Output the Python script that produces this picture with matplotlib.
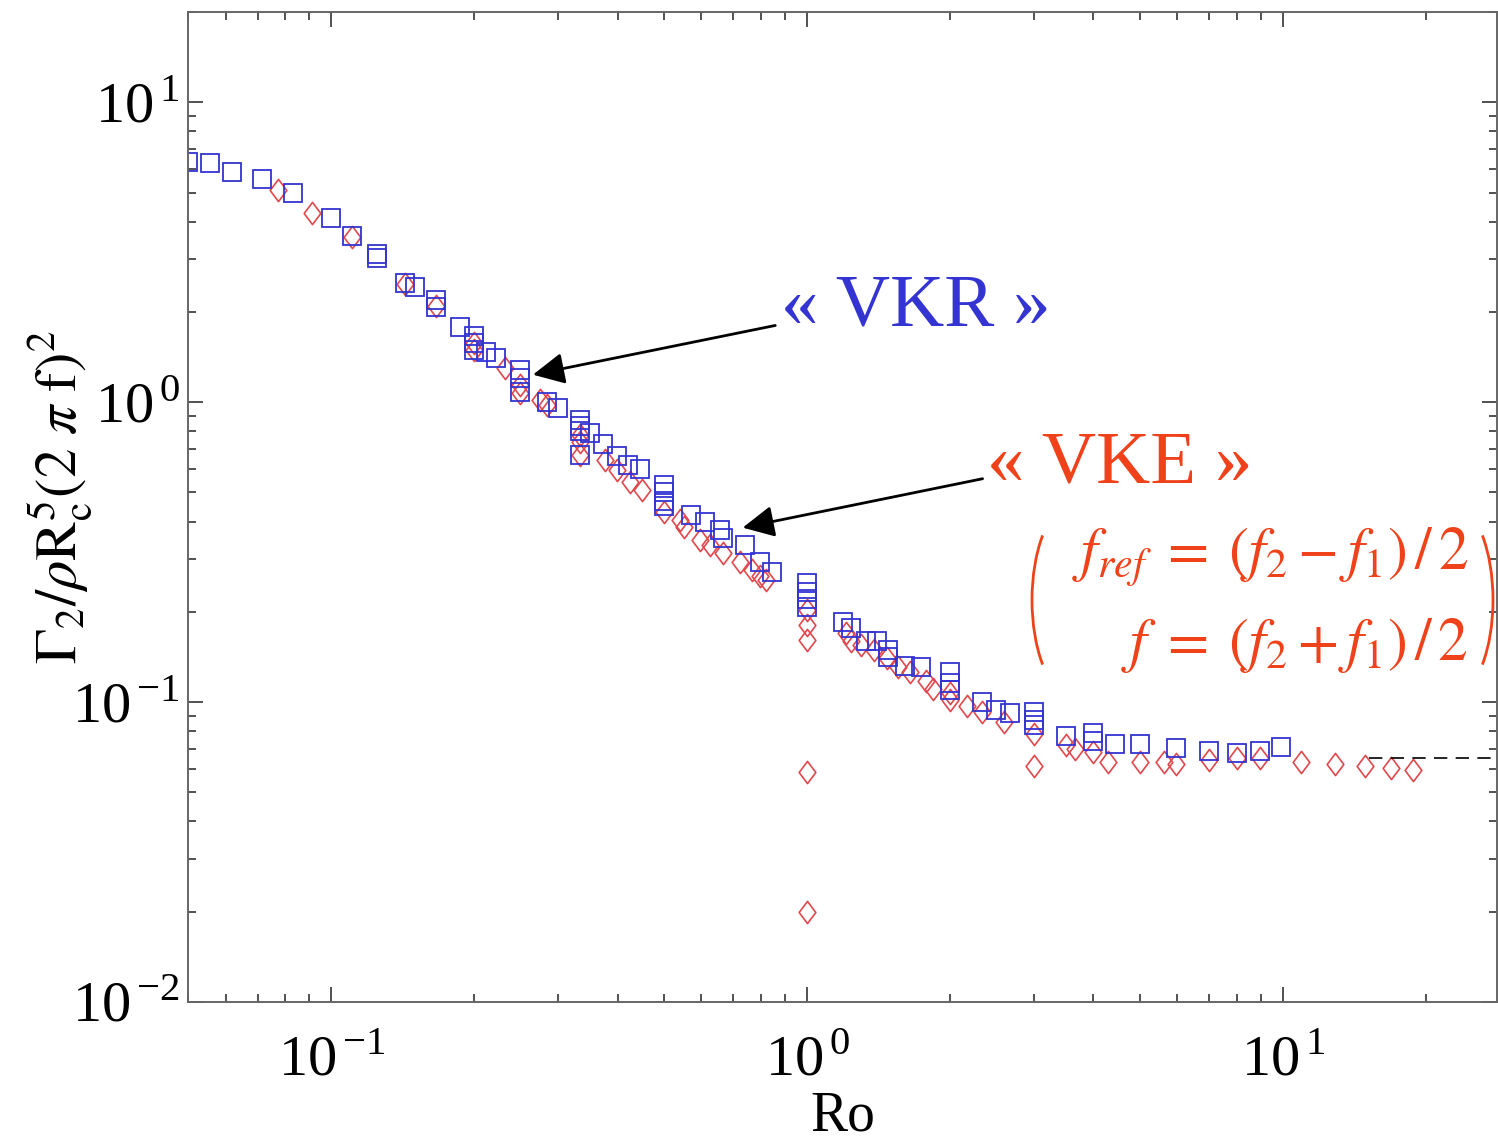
import matplotlib
matplotlib.use("Agg")
import matplotlib.pyplot as plt
from matplotlib.patches import Arc
from matplotlib.path import Path
from matplotlib.ticker import FuncFormatter
import numpy as np

plt.rcParams['font.family'] = 'serif'
plt.rcParams['font.serif'] = ['Liberation Serif', 'DejaVu Serif']
plt.rcParams['mathtext.fontset'] = 'stix'

# ---------------- data ----------------
# "VKR" run (blue squares)
vkr_ro = [0.0501, 0.0557, 0.0619, 0.0716, 0.0832, 0.100, 0.1107, 0.125, 0.125,
          0.143, 0.150, 0.166, 0.166, 0.1866, 0.200, 0.200, 0.200, 0.212, 0.222,
          0.249, 0.249, 0.249, 0.284, 0.300, 0.333, 0.333, 0.333, 0.333, 0.350,
          0.373, 0.398, 0.420, 0.446, 0.500, 0.500, 0.500, 0.500, 0.570, 0.610,
          0.656, 0.667, 0.740, 0.795, 0.845, 1.0, 1.0, 1.0, 1.0, 1.19, 1.24,
          1.33, 1.40, 1.48, 1.48, 1.61, 1.74, 2.0, 2.0, 2.0, 2.33, 2.50, 2.67,
          3.0, 3.0, 3.0, 3.5, 4.0, 4.0, 4.45, 5.0, 5.95, 7.0, 8.0, 8.94, 9.9]
vkr_gamma = [6.31, 6.27, 5.84, 5.54, 4.97, 4.11, 3.58, 3.12, 3.02,
             2.49, 2.42, 2.19, 2.07, 1.78, 1.66, 1.57, 1.49, 1.47, 1.40,
             1.28, 1.20, 1.08, 1.00, 0.955, 0.87, 0.83, 0.80, 0.666, 0.79,
             0.724, 0.66, 0.617, 0.60, 0.53, 0.50, 0.47, 0.45, 0.42, 0.40,
             0.375, 0.352, 0.333, 0.293, 0.271, 0.25, 0.232, 0.22, 0.207, 0.185, 0.177,
             0.16, 0.16, 0.149, 0.141, 0.132, 0.131, 0.126, 0.116, 0.11, 0.100, 0.094, 0.092,
             0.093, 0.087, 0.084, 0.077, 0.079, 0.074, 0.0724, 0.0724, 0.0704, 0.0688, 0.0678, 0.0688, 0.0707]

# "VKE" run (red diamonds)
vke_ro = [0.0774, 0.0912, 0.1107, 0.143, 0.166, 0.200, 0.200, 0.232, 0.249, 0.249,
          0.275, 0.284, 0.333, 0.333, 0.333, 0.377, 0.398, 0.425, 0.450, 0.500,
          0.540, 0.551, 0.596, 0.625, 0.667, 0.723, 0.767, 0.795, 0.820,
          1.0, 1.0, 1.0, 1.0, 1.0, 1.21, 1.24, 1.30, 1.38, 1.47, 1.55, 1.65,
          1.78, 1.84, 2.0, 2.0, 2.17, 2.33, 2.6, 3.0, 3.0, 3.5, 3.65, 4.0, 4.3,
          5.0, 5.62, 5.95, 7.0, 8.0, 8.94, 10.9, 12.9, 14.9, 16.9, 18.8]
vke_gamma = [5.09, 4.27, 3.55, 2.47, 2.10, 1.57, 1.49, 1.30, 1.14, 1.07,
             1.015, 0.977, 0.776, 0.736, 0.666, 0.64, 0.594, 0.541, 0.509, 0.43,
             0.405, 0.383, 0.347, 0.333, 0.314, 0.293, 0.276, 0.263, 0.255,
             0.203, 0.181, 0.161, 0.0585, 0.020, 0.17, 0.16, 0.155, 0.149, 0.14, 0.131, 0.126,
             0.118, 0.111, 0.107, 0.102, 0.097, 0.093, 0.086, 0.078, 0.061, 0.072, 0.070, 0.068, 0.063,
             0.063, 0.063, 0.062, 0.064, 0.065, 0.065, 0.063, 0.062, 0.061, 0.0605, 0.0594]

# asymptote (dashed)
asym_ro = [15.2, 30.0]
asym_gamma = [0.065, 0.065]

blue = '#3434d2'
red = '#e2474c'
orange = '#f0421a'

fig = plt.figure(figsize=(14.98, 11.43), dpi=100)
ax = fig.add_axes([188/1498, 141/1143, 1309/1498, 990/1143])

# thin diamond as in the picture
diam = Path([(0, 1), (0.75, 0), (0, -1), (-0.75, 0), (0, 1)],
            [Path.MOVETO, Path.LINETO, Path.LINETO, Path.LINETO, Path.CLOSEPOLY])

ax.plot(vke_ro, vke_gamma, linestyle='none', marker=diam, markersize=16,
        markerfacecolor='none', markeredgecolor=red, markeredgewidth=1.2)
ax.plot(vkr_ro, vkr_gamma, linestyle='none', marker='s', markersize=12.5,
        markerfacecolor='none', markeredgecolor=blue, markeredgewidth=1.3)
ax.plot(asym_ro, asym_gamma, color='black', linestyle=(0, (8, 5)), linewidth=1.2)

ax.set_xscale('log')
ax.set_yscale('log')
ax.set_xlim(0.05, 28.2)
ax.set_ylim(0.01, 20)

def pow_label(v, pos):
    e = int(np.round(np.log10(v)))
    return r'$\mathdefault{10}^{\,\mathdefault{%d}}$' % e

ax.xaxis.set_major_formatter(FuncFormatter(pow_label))
ax.yaxis.set_major_formatter(FuncFormatter(pow_label))

for s in ax.spines.values():
    s.set_color('#666666')
    s.set_linewidth(1.4)
ax.tick_params(which='both', direction='in', top=True, right=True, colors='#333333',
               width=1.2, labelsize=42, labelcolor='black')
ax.tick_params(which='major', length=11)
ax.tick_params(which='minor', length=6)
ax.tick_params(axis='y', pad=6)
ax.tick_params(axis='x', pad=24)

ax.set_xlabel('Ro', fontsize=40, labelpad=2)
ax.set_ylabel(r'$\Gamma_2/\rho \mathrm{R}_\mathrm{c}^5(2\ \pi\ \mathrm{f})^2$', fontsize=42)
ax.yaxis.set_label_coords(-0.072, 0.51)

# labels with arrows
ax.annotate('', xy=(0.262, 1.23), xytext=(0.869, 1.81),
            arrowprops=dict(arrowstyle='-|>', color='black', lw=2, mutation_scale=48))
ax.text(1.69, 2.06, u'\u00ab VKR \u00bb', color=blue, fontsize=54, ha='center', va='center')
ax.annotate('', xy=(0.723, 0.38), xytext=(2.37, 0.558),
            arrowprops=dict(arrowstyle='-|>', color='black', lw=2, mutation_scale=48))
ax.text(4.54, 0.62, u'\u00ab VKE \u00bb', color=orange, fontsize=54, ha='center', va='center')

# formula block, placed in figure inches
tr = fig.dpi_scale_trans
fig.text(14.68, 11.43 - 5.70, r'$f_{ref}\;=\;(f_2 - f_1)\,/\,2$', transform=tr,
         color=orange, fontsize=43, ha='right', va='baseline')
fig.text(14.68, 11.43 - 6.60, r'$f\;=\;(f_2 + f_1)\,/\,2$', transform=tr,
         color=orange, fontsize=43, ha='right', va='baseline')
fig.patches.append(Arc((10.77, 11.43 - 6.0), 0.9, 2.0, theta1=118, theta2=242,
                       transform=tr, color=orange, lw=2))
fig.patches.append(Arc((14.48, 11.43 - 6.0), 0.9, 2.0, theta1=-62, theta2=62,
                       transform=tr, color=orange, lw=2))

fig.savefig('out.png', dpi=100)
